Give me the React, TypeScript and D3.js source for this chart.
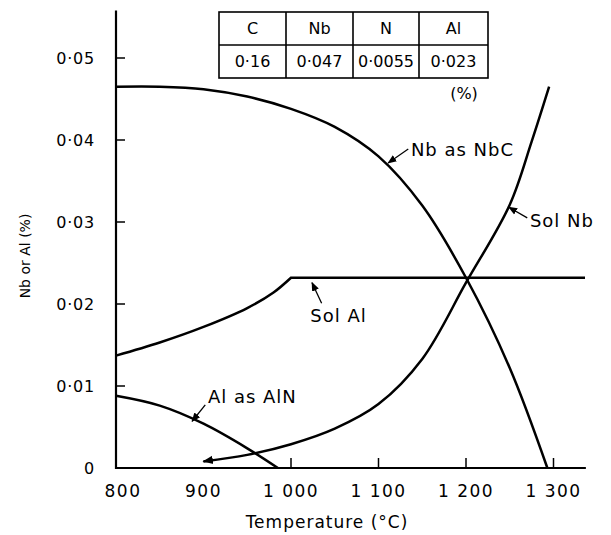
import React from 'react'
import { scaleLinear, line, curveCatmullRom } from 'd3'

// chart data
const nbAsNbC: [number, number][] = [
  [800, 0.0465], [850, 0.0465], [900, 0.0462], [950, 0.0453], [1000, 0.0438],
  [1050, 0.0416], [1100, 0.038], [1150, 0.032], [1200, 0.0232], [1250, 0.0122], [1293, 0],
]
const solNb: [number, number][] = [
  [900, 0.0008], [950, 0.0016], [1000, 0.0029], [1050, 0.0048], [1100, 0.0078],
  [1150, 0.0133], [1200, 0.0226], [1250, 0.0321], [1275, 0.0398], [1295, 0.0465],
]
const solAl: [number, number][] = [
  [800, 0.0137], [850, 0.0153], [900, 0.0172], [950, 0.0195], [980, 0.0214],
  [1000, 0.0232], [1336, 0.0232],
]
const alAsAlN: [number, number][] = [
  [800, 0.0088], [850, 0.0076], [900, 0.0054], [950, 0.0024], [985, 0],
]

const xTicks = [800, 900, 1000, 1100, 1200, 1300]
const xTickLabels = ['800', '900', '1 000', '1 100', '1 200', '1 300']
const yTicks = [0, 0.01, 0.02, 0.03, 0.04, 0.05]

const tableHeaders = ['C', 'Nb', 'N', 'Al']
const tableValues = ['0·16', '0·047', '0·0055', '0·023']

// labels: text anchor point and arrow from -> to, in data units
const annotations = [
  { text: 'Nb as NbC', at: [1137, 0.0388], from: [1134, 0.0389], to: [1111, 0.0372] },
  { text: 'Sol Nb', at: [1273, 0.0302], from: [1270, 0.0305], to: [1249, 0.0318] },
  { text: 'Sol Al', at: [1022, 0.0186], from: [1035, 0.0201], to: [1024, 0.0226] },
  { text: 'Al as AlN', at: [905, 0.0087], from: [902, 0.0077], to: [887, 0.0057] },
]

const FONT = '"DejaVu Sans", Verdana, sans-serif'

export default function App() {
  const width = 611
  const height = 535
  const x = scaleLinear().domain([800, 1300]).range([116, 553.5])
  const y = scaleLinear().domain([0, 0.05]).range([468, 58])

  const smooth = line<[number, number]>()
    .x((d) => x(d[0]))
    .y((d) => y(d[1]))
    .curve(curveCatmullRom.alpha(0.5))
  const straight = line<[number, number]>()
    .x((d) => x(d[0]))
    .y((d) => y(d[1]))

  // Sol Al: rounded rise, then a sharp corner onto the plateau
  const plateau = solAl.findIndex((d) => d[1] === solAl[solAl.length - 1][1])
  const solAlPath =
    (smooth(solAl.slice(0, plateau + 1)) || '') + (straight(solAl.slice(plateau)) || '').replace(/^M/, 'L')

  const fmt = (d: number) => (d === 0 ? '0' : d.toFixed(2).replace('.', '·'))

  // table geometry
  const tLeft = 219
  const colW = [67, 67, 66, 69]
  const rowTop = 12
  const rowH = 33
  const colX = colW.reduce((acc: number[], w, i) => [...acc, acc[i] + w], [tLeft])

  return (
    <svg
      width={width}
      height={height}
      style={{ position: 'absolute', left: 0, top: 0, background: '#fff' }}
      fontFamily={FONT}
    >
      <defs>
        <marker id="arr" viewBox="0 0 10 10" refX="9" refY="5" markerWidth="7" markerHeight="7" orient="auto">
          <path d="M0,1 L10,5 L0,9 z" fill="#000" />
        </marker>
      </defs>

      {/* axes */}
      <line x1={x(800)} x2={x(800)} y1={y(0) + 1} y2={y(0.0558)} stroke="#000" strokeWidth={2.2} />
      <line x1={x(800)} x2={x(1337)} y1={y(0)} y2={y(0)} stroke="#000" strokeWidth={2.2} />
      {yTicks.map((t) => (
        <g key={'y' + t}>
          {t > 0 && <line x1={x(800)} x2={x(800) + 9} y1={y(t)} y2={y(t)} stroke="#000" strokeWidth={1.5} />}
          <text x={95} y={y(t)} dy="0.36em" textAnchor="end" fontSize={16} letterSpacing={0.8}>
            {fmt(t)}
          </text>
        </g>
      ))}
      {xTicks.map((t, i) => (
        <g key={'x' + t}>
          {t >= 1000 && <line x1={x(t)} x2={x(t)} y1={y(0)} y2={y(0) - 10} stroke="#000" strokeWidth={1.5} />}
          <text x={x(t) + (i === 0 ? 7 : 0)} y={y(0) + 29} textAnchor="middle" fontSize={17} letterSpacing={1.5}>
            {xTickLabels[i]}
          </text>
        </g>
      ))}
      <text x={327} y={528} textAnchor="middle" fontSize={17} letterSpacing={1}>
        Temperature  (°C)
      </text>
      <text transform="translate(30,256) rotate(-90)" textAnchor="middle" fontSize={14}>
        Nb or Al  (%)
      </text>

      {/* curves */}
      <path d={smooth(nbAsNbC) || ''} fill="none" stroke="#000" strokeWidth={2.5} />
      <path d={smooth(solNb) || ''} fill="none" stroke="#000" strokeWidth={2.5} />
      <path d={solAlPath} fill="none" stroke="#000" strokeWidth={2.5} />
      <path d={smooth(alAsAlN) || ''} fill="none" stroke="#000" strokeWidth={2.5} />
      {/* arrowhead at start of Sol Nb */}
      <line
        x1={x(solNb[0][0]) + 6}
        y1={y(solNb[0][1]) - 1}
        x2={x(solNb[0][0])}
        y2={y(solNb[0][1])}
        stroke="#000"
        strokeWidth={1.5}
        markerEnd="url(#arr)"
      />

      {/* annotations */}
      {annotations.map((a) => (
        <g key={a.text}>
          <line
            x1={x(a.from[0])}
            y1={y(a.from[1])}
            x2={x(a.to[0])}
            y2={y(a.to[1])}
            stroke="#000"
            strokeWidth={1.3}
            markerEnd="url(#arr)"
          />
          <text x={x(a.at[0])} y={y(a.at[1])} dy="0.36em" fontSize={18} letterSpacing={1}>
            {a.text}
          </text>
        </g>
      ))}

      {/* composition table */}
      <rect x={tLeft} y={rowTop} width={colX[4] - tLeft} height={rowH * 2} fill="none" stroke="#000" strokeWidth={1.6} />
      <line x1={tLeft} x2={colX[4]} y1={rowTop + rowH} y2={rowTop + rowH} stroke="#000" strokeWidth={1.6} />
      {colX.slice(1, 4).map((cx) => (
        <line key={cx} x1={cx} x2={cx} y1={rowTop} y2={rowTop + rowH * 2} stroke="#000" strokeWidth={1.6} />
      ))}
      {tableHeaders.map((h, i) => (
        <g key={h}>
          <text x={(colX[i] + colX[i + 1]) / 2} y={rowTop + rowH / 2} dy="0.36em" textAnchor="middle" fontSize={16}>
            {h}
          </text>
          <text x={(colX[i] + colX[i + 1]) / 2} y={rowTop + rowH * 1.5} dy="0.36em" textAnchor="middle" fontSize={16}>
            {tableValues[i]}
          </text>
        </g>
      ))}
      <text x={464} y={99} textAnchor="middle" fontSize={16}>
        (%)
      </text>
    </svg>
  )
}
